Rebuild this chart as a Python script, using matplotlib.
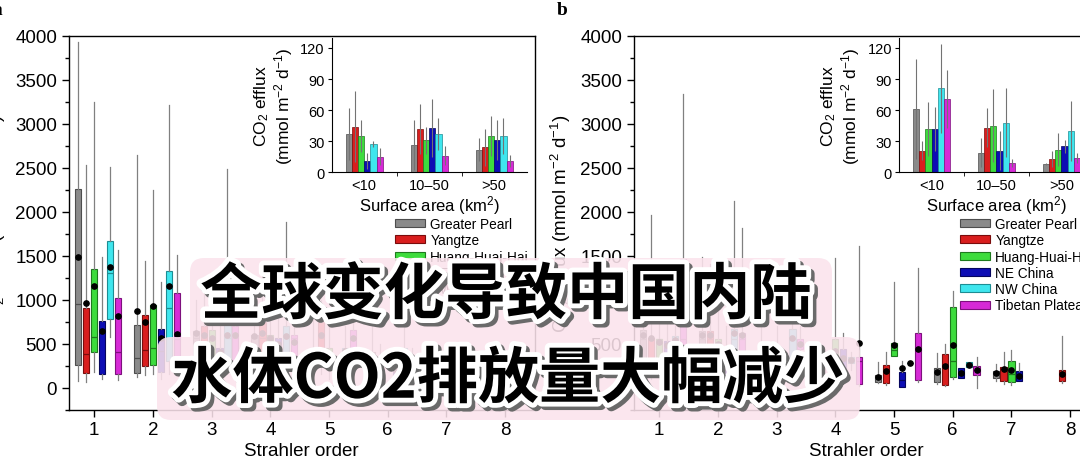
"""CO2 efflux by Strahler order for the six regions of China, with an overlay title."""

import numpy as np
import matplotlib
matplotlib.use('Agg')
from matplotlib import pyplot as plt
from matplotlib import patheffects as pe
from matplotlib.patches import FancyBboxPatch, PathPatch, Patch
from matplotlib.path import Path
from matplotlib.ticker import MultipleLocator

plt.rcParams['font.family'] = ['Liberation Sans', 'DejaVu Sans']
plt.rcParams['mathtext.fontset'] = 'custom'
plt.rcParams['mathtext.rm'] = 'Liberation Sans'
plt.rcParams['mathtext.it'] = 'Liberation Sans:italic'

regions = ['Greater Pearl', 'Yangtze', 'Huang-Huai-Hai', 'NE China',
           'NW China', 'Tibetan Plateau']
face = ['#8a8a8a', '#d91e1e', '#3ddc3d', '#0d0db4', '#3fe6ee', '#d62ad6']
edge = ['#4d4d4d', '#7a0c0c', '#1e7a1e', '#05055e', '#1d8d93', '#7d107d']
orders = [1, 2, 3, 4, 5, 6, 7, 8]
areas = ['<10', '10–50', '>50']

# (lower whisker, Q1, median, Q3, upper whisker, mean) for Strahler order 1..8
a_pearl = [(72, 254, 950, 2259, 3931, 1480), (121, 166, 337, 708, 2637, 867),
           (100, 350, 560, 640, 1000, 620), (100, 350, 560, 600, 1000, 580),
           (100, 250, 350, 450, 900, 400), (80, 150, 250, 400, 700, 280), None, None]
a_yangtze = [(64, 170, 386, 904, 2524, 961), (140, 246, 431, 829, 1438, 745),
             (120, 300, 560, 700, 1200, 600), (100, 300, 560, 750, 1300, 620),
             (150, 350, 560, 750, 1000, 600), (80, 150, 200, 300, 500, 250), None, None]
a_hhh = [(178, 405, 575, 1343, 3243, 1158), (159, 261, 450, 942, 2240, 927),
         (100, 250, 560, 650, 1100, 560), (100, 350, 560, 600, 1000, 560),
         (100, 250, 350, 450, 800, 380), None, None, None]
a_ne = [(95, 159, 630, 757, 1487, 640), (100, 180, 420, 670, 1200, 560),
        (80, 150, 350, 450, 900, 400), (80, 200, 500, 560, 800, 500), None,
        (80, 120, 180, 250, 400, 200), (420, 440, 455, 470, 480, 455), None]
a_nw = [(575, 783, 1302, 1665, 2505, 1370), (150, 300, 900, 1321, 3205, 1154),
        (150, 300, 560, 720, 2480, 600), (150, 250, 560, 700, 1880, 580),
        (150, 300, 400, 450, 700, 420), (100, 250, 350, 450, 700, 380), None, None]
a_tibet = [(83, 148, 405, 1018, 1559, 814), (150, 300, 550, 1075, 1502, 613),
           (100, 250, 560, 700, 1300, 600), (100, 250, 560, 600, 900, 520),
           (200, 350, 560, 650, 900, 560), (80, 150, 200, 280, 450, 230), None, None]

b_pearl = [(100, 250, 550, 650, 1300, 600), (100, 436, 550, 644, 1486, 600),
           (100, 300, 400, 500, 800, 450), None, (51, 66, 110, 142, 293, 115),
           (40, 66, 150, 217, 387, 172), (77, 104, 165, 191, 267, 165), None]
b_yangtze = [(100, 284, 550, 568, 1959, 560), (100, 436, 550, 644, 1400, 600),
             None, None, (28, 51, 191, 259, 399, 191), (21, 28, 250, 380, 493, 248),
             (40, 77, 214, 236, 406, 214), (51, 70, 153, 202, 580, 153)]
b_hhh = [(100, 284, 550, 550, 1000, 520), (100, 322, 500, 550, 1200, 500),
         (100, 322, 400, 436, 700, 420), (100, 208, 400, 550, 1467, 420),
         (361, 361, 430, 501, 1198, 482), (96, 115, 300, 913, 1099, 482),
         (28, 58, 150, 304, 425, 199), None]
b_ne = [(100, 284, 450, 530, 900, 480), (50, 95, 200, 322, 700, 250), None,
        (100, 208, 300, 436, 625, 330), (5, 5, 80, 172, 296, 225),
        (104, 104, 150, 217, 217, 161), (70, 70, 130, 191, 274, 130), None]
b_nw = [(100, 320, 550, 587, 1000, 540), (150, 436, 550, 663, 2119, 620),
        (150, 322, 550, 663, 900, 560), (200, 284, 300, 341, 400, 310),
        (273, 273, 273, 273, 273, 273), (229, 229, 260, 293, 293, 259), None, None]
b_tibet = [(200, 474, 550, 1459, 3335, 900), (150, 380, 550, 620, 1808, 600),
           (200, 440, 480, 550, 700, 500), (20, 38, 300, 341, 1603, 504),
           (58, 84, 437, 625, 1356, 437), (0, 142, 198, 240, 342, 198), None, None]

# inset: mean CO2 efflux and error half-length per surface-area class
inset_a_mean = [[37, 26, 22], [44, 42, 24], [35, 31, 35], [11, 43, 31], [27, 37, 35], [15, 16, 11]]
inset_a_err = [[25, 24, 11], [34, 24, 18], [15, 13, 19], [8, 28, 19], [3, 15, 17], [8, 9, 6]]
inset_b_mean = [[61, 19, 8], [21, 43, 13], [42, 45, 22], [42, 21, 25], [81, 48, 40], [71, 9, 14]]
inset_b_err = [[48, 14, 1], [9, 19, 8], [26, 35, 16], [21, 19, 6], [43, 33, 29], [28, 4, 5]]

panel_a = [a_pearl, a_yangtze, a_hhh, a_ne, a_nw, a_tibet]
panel_b = [b_pearl, b_yangtze, b_hhh, b_ne, b_nw, b_tibet]

W, H = 1080, 460
fig = plt.figure(figsize=(W / 100, H / 100), dpi=100)


def add_px_axes(left, top, right, bottom):
    return fig.add_axes([left / W, 1 - bottom / H, (right - left) / W, (bottom - top) / H])


def draw_boxes(ax, panel):
    for i, series in enumerate(panel):
        stats, pos = [], []
        for order, s in zip(orders, series):
            if s is None:
                continue
            lo, q1, med, q3, hi, mean = s
            stats.append(dict(whislo=lo, q1=q1, med=med, q3=q3, whishi=hi,
                              mean=mean, fliers=[]))
            pos.append(order + (i - 2) * 0.135)
        ax.bxp(stats, positions=pos, widths=0.105, patch_artist=True,
               showmeans=True, showcaps=False, showfliers=False,
               manage_ticks=False,
               boxprops=dict(facecolor=face[i], edgecolor=edge[i], linewidth=0.8),
               whiskerprops=dict(color='0.5', linewidth=0.9),
               medianprops=dict(color=edge[i], linewidth=0.9),
               meanprops=dict(marker='o', markerfacecolor='black',
                              markeredgecolor='black', markersize=3.8))


def style_main(ax, label):
    ax.set_xlim(0.57, 8.5)
    ax.set_ylim(-250, 4000)
    ax.set_xticks(orders)
    ax.set_yticks(np.arange(0, 4001, 500))
    ax.yaxis.set_minor_locator(MultipleLocator(250))
    ax.tick_params(labelsize=13.5, direction='out', length=5, width=1)
    ax.tick_params(which='minor', length=3, width=1)
    ax.set_xlabel('Strahler order', fontsize=13.5, labelpad=3)
    ax.set_ylabel(r'CO$_2$ efflux (mmol m$^{-2}$ d$^{-1}$)', fontsize=13.5)
    ax.yaxis.set_label_coords(-0.131, 0.5)
    for sp in ax.spines.values():
        sp.set_linewidth(1.0)
    handles = [Patch(facecolor=face[i], edgecolor=edge[i], linewidth=0.8,
                     label=regions[i]) for i in range(6)]
    ax.legend(handles=handles, loc='upper left', bbox_to_anchor=(0.70, 0.515),
              frameon=False, fontsize=9.8, handlelength=2.2, handleheight=0.5,
              handletextpad=0.4, labelspacing=0.17, borderpad=0, borderaxespad=0)
    x0 = ax.get_position().x0 - 77 / W
    fig.text(x0, 1 - 2 / H, label, ha='left', va='top', fontsize=14,
             fontweight='bold', family='Liberation Serif')


def draw_inset(ax, means, errs):
    width = 0.095
    x = np.arange(len(areas))
    for i in range(6):
        ax.bar(x + (i - 2.5) * width, means[i], width, color=face[i],
               edgecolor=edge[i], linewidth=0.5, zorder=2)
        ax.errorbar(x + (i - 2.5) * width, means[i], yerr=errs[i], fmt='none',
                    ecolor='0.45', elinewidth=0.8, capsize=0, zorder=3)
    ax.set_xlim(-0.5, 2.5)
    ax.set_ylim(0, 130)
    ax.set_yticks([0, 30, 60, 90, 120])
    ax.set_xticks(x)
    ax.set_xticklabels(areas)
    ax.set_xticks([0.5, 1.5], minor=True)
    ax.tick_params(labelsize=10.5, length=3, pad=2)
    ax.tick_params(axis='x', which='major', length=0, pad=4)
    ax.tick_params(axis='x', which='minor', length=3)
    ax.spines['top'].set_visible(False)
    ax.spines['right'].set_visible(False)
    ax.set_facecolor('none')
    ax.set_xlabel(r'Surface area (km$^2$)', fontsize=12, labelpad=1)
    ax.set_ylabel('CO$_2$ efflux\n(mmol m$^{-2}$ d$^{-1}$)', fontsize=12.5,
                  linespacing=1.05)
    ax.yaxis.set_label_coords(-0.19, 0.5)


ax_a = add_px_axes(69, 36.5, 534.5, 410.5)
ax_b = add_px_axes(634, 36.5, 1099.5, 410.5)
draw_boxes(ax_a, panel_a)
draw_boxes(ax_b, panel_b)
style_main(ax_a, 'a')
style_main(ax_b, 'b')

in_a = add_px_axes(331.7, 38.6, 526.7, 173.3)
in_b = add_px_axes(899, 38.6, 1094, 173.3)
draw_inset(in_a, inset_a_mean, inset_a_err)
draw_inset(in_b, inset_b_mean, inset_b_err)

# overlay title on two joined pink rounded boxes (coordinates in inches)
boxes = [FancyBboxPatch((1.90, (H - 348) / 100), 6.42, 0.89,
                        boxstyle='round,pad=0,rounding_size=0.14'),
         FancyBboxPatch((1.57, (H - 421) / 100), 7.03, 0.83,
                        boxstyle='round,pad=0,rounding_size=0.14')]
union = Path.make_compound_path(*[b.get_path() for b in boxes])
fig.add_artist(PathPatch(union, transform=fig.dpi_scale_trans, facecolor='#fbe3ec',
                         edgecolor='none', alpha=0.88, zorder=10))

title_fx = [pe.Stroke(offset=(2.5, -2.5), linewidth=7, foreground='#6a6a6a'),
            pe.Stroke(linewidth=7, foreground='white'), pe.Normal()]
for text, xc, yc in [('全球变化导致中国内陆', 506, 297), ('水体CO2排放量大幅减少', 508, 381)]:
    fig.text(xc / W, 1 - yc / H, text, ha='center', va='center', fontsize=44,
             fontweight='black', color='black', zorder=11,
             family=['Noto Sans CJK SC', 'DejaVu Sans'], path_effects=title_fx)

fig.savefig('out.png', dpi=100)
